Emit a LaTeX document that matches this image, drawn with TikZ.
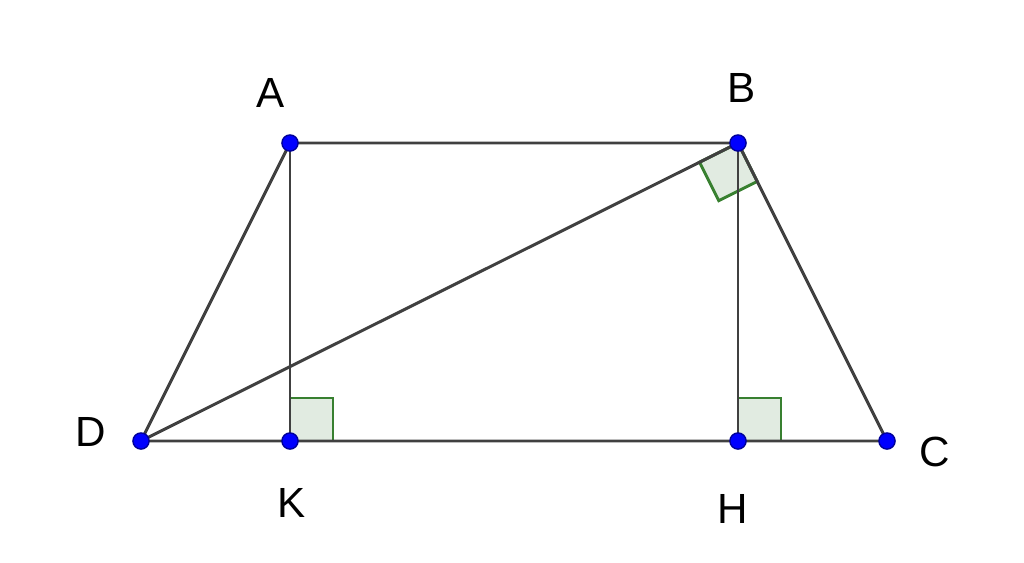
\documentclass[tikz,border=0pt]{standalone}
\usepackage{fontspec}
\setmainfont{Liberation Sans}
\usetikzlibrary{calc}
\definecolor{segcol}{RGB}{64,64,64}
\definecolor{angcol}{RGB}{56,128,48}
\definecolor{angfill}{RGB}{225,235,225}
\tikzset{
  seg/.style={segcol,line width=0.85pt},
  rightmark/.style={angcol,line width=0.85pt,fill=angfill},
  pt/.style={circle,fill=blue,draw=blue!60!black,inner sep=0pt,minimum size=4.6pt},
  lbl/.style={font=\fontsize{12}{14}\selectfont}
}
\begin{document}
\begin{tikzpicture}
\useasboundingbox (0,0) rectangle (10.24,5.62);
\coordinate (A) at (2.90,4.19);
\coordinate (B) at (7.38,4.19);
\coordinate (C) at (8.87,1.21);
\coordinate (D) at (1.41,1.21);
\coordinate (K) at (2.90,1.21);
\coordinate (H) at (7.38,1.21);
% right angles
\draw [rightmark] (K) rectangle ++(0.43,0.43);
\draw [rightmark] (H) rectangle ++(0.43,0.43);
\coordinate (bd) at ($(B)!0.43cm!(D)$);
\coordinate (bc) at ($(B)!0.43cm!(C)$);
\draw [rightmark] (B) -- (bd) -- ($(bd)+(bc)-(B)$) -- (bc) -- cycle;
% sides
\draw [seg] (A) -- (B) -- (C) -- (D) -- cycle;
\draw [seg] (A) -- (K);
\draw [seg] (B) -- (H);
\draw [seg] (B) -- (D);
\foreach \p in {A,B,C,D,K,H} {\node [pt] (p\p) at (\p) {};}
\node [lbl] (lA) at (2.71,4.69) {A};
\node [lbl] (lB) at (7.42,4.74) {B};
\node [lbl] (lC) at (9.35,1.10) {C};
\node [lbl] (lD) at (0.91,1.30) {D};
\node [lbl] (lK) at (2.92,0.59) {K};
\node [lbl] (lH) at (7.33,0.53) {H};
\end{tikzpicture}
\end{document}
